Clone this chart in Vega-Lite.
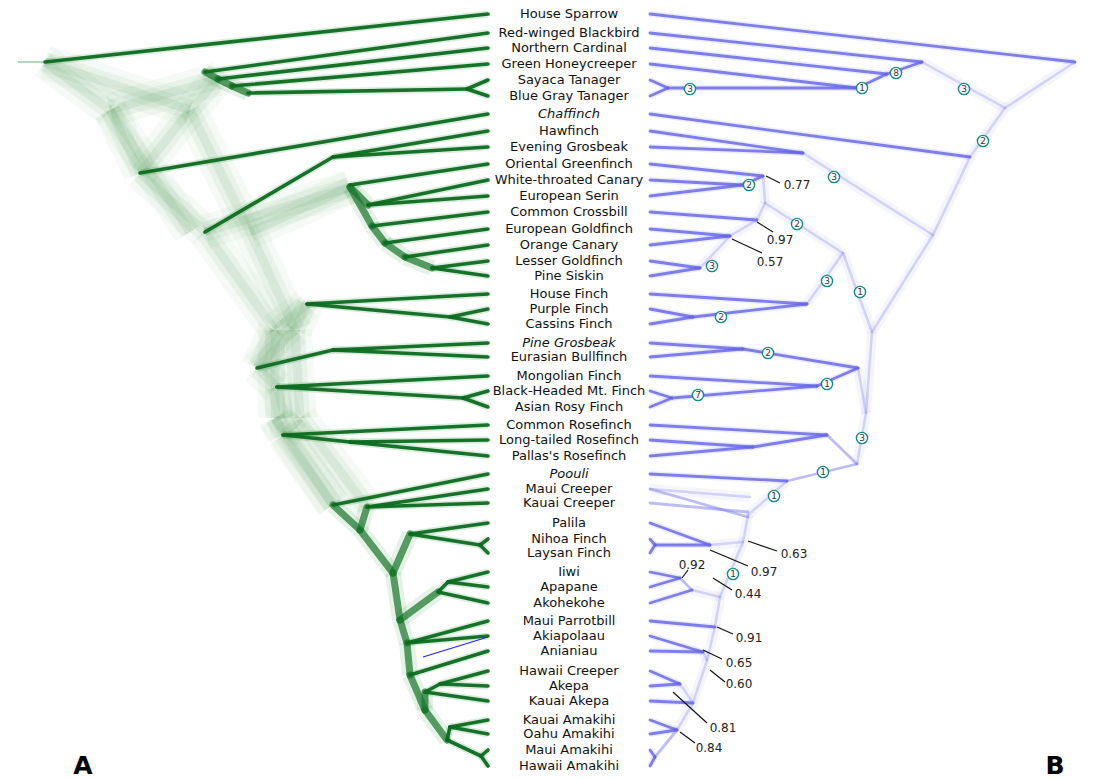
{
  "$schema": "https://vega.github.io/schema/vega-lite/v6.json",
  "width": 1093,
  "height": 779,
  "padding": 0,
  "autosize": {"type": "fit", "contains": "padding"},
  "background": "white",
  "config": {"view": {"stroke": null}, "axis": {"disable": true}, "legend": {"disable": true}},
  "datasets": {
    "segs": [
      {"s":"L","k":"c","x":488,"y":14,"x2":45,"y2":62},
      {"s":"L","k":"t","x":45,"y":62,"x2":18,"y2":62},
      {"s":"L","k":"c","x":488,"y":33,"x2":205,"y2":72},
      {"s":"L","k":"c","x":488,"y":48,"x2":218,"y2":79},
      {"s":"L","k":"c","x":488,"y":64,"x2":232,"y2":86},
      {"s":"L","k":"c","x":488,"y":80,"x2":467,"y2":89},
      {"s":"L","k":"c","x":488,"y":96,"x2":467,"y2":89},
      {"s":"L","k":"c","x":467,"y":89,"x2":248,"y2":93},
      {"s":"L","k":"c","x":488,"y":114,"x2":140,"y2":173},
      {"s":"L","k":"c","x":488,"y":131,"x2":333,"y2":157},
      {"s":"L","k":"c","x":488,"y":147,"x2":333,"y2":157},
      {"s":"L","k":"c","x":333,"y":157,"x2":205,"y2":232},
      {"s":"L","k":"c","x":488,"y":164,"x2":350,"y2":185},
      {"s":"L","k":"c","x":488,"y":180,"x2":368,"y2":205},
      {"s":"L","k":"c","x":488,"y":196,"x2":368,"y2":205},
      {"s":"L","k":"c","x":488,"y":212,"x2":372,"y2":226},
      {"s":"L","k":"c","x":488,"y":229,"x2":385,"y2":243},
      {"s":"L","k":"c","x":488,"y":245,"x2":405,"y2":257},
      {"s":"L","k":"c","x":488,"y":261,"x2":432,"y2":268},
      {"s":"L","k":"c","x":488,"y":276,"x2":432,"y2":268},
      {"s":"L","k":"c","x":488,"y":294,"x2":307,"y2":304},
      {"s":"L","k":"c","x":488,"y":309,"x2":450,"y2":317},
      {"s":"L","k":"c","x":488,"y":324,"x2":450,"y2":317},
      {"s":"L","k":"c","x":450,"y":317,"x2":307,"y2":304},
      {"s":"L","k":"c","x":488,"y":343,"x2":333,"y2":350},
      {"s":"L","k":"c","x":488,"y":357,"x2":333,"y2":350},
      {"s":"L","k":"c","x":333,"y":350,"x2":257,"y2":368},
      {"s":"L","k":"c","x":488,"y":376,"x2":277,"y2":387},
      {"s":"L","k":"c","x":488,"y":391,"x2":463,"y2":398},
      {"s":"L","k":"c","x":488,"y":407,"x2":463,"y2":398},
      {"s":"L","k":"c","x":463,"y":398,"x2":277,"y2":387},
      {"s":"L","k":"c","x":488,"y":425,"x2":283,"y2":435},
      {"s":"L","k":"c","x":488,"y":440,"x2":350,"y2":442},
      {"s":"L","k":"c","x":488,"y":456,"x2":350,"y2":442},
      {"s":"L","k":"c","x":350,"y":442,"x2":283,"y2":435},
      {"s":"L","k":"c","x":488,"y":474,"x2":333,"y2":505},
      {"s":"L","k":"c","x":488,"y":489,"x2":367,"y2":507},
      {"s":"L","k":"c","x":488,"y":503,"x2":367,"y2":507},
      {"s":"L","k":"c","x":488,"y":523,"x2":410,"y2":534},
      {"s":"L","k":"c","x":488,"y":539,"x2":480,"y2":545},
      {"s":"L","k":"c","x":488,"y":553,"x2":480,"y2":545},
      {"s":"L","k":"c","x":480,"y":545,"x2":410,"y2":534},
      {"s":"L","k":"c","x":488,"y":572,"x2":448,"y2":582},
      {"s":"L","k":"c","x":488,"y":587,"x2":448,"y2":582},
      {"s":"L","k":"c","x":448,"y":582,"x2":438,"y2":592},
      {"s":"L","k":"c","x":488,"y":603,"x2":438,"y2":592},
      {"s":"L","k":"c","x":488,"y":621,"x2":407,"y2":643},
      {"s":"L","k":"c","x":488,"y":636,"x2":407,"y2":643},
      {"s":"L","k":"c","x":488,"y":651,"x2":410,"y2":675},
      {"s":"L","k":"c","x":488,"y":671,"x2":440,"y2":684},
      {"s":"L","k":"c","x":488,"y":686,"x2":440,"y2":684},
      {"s":"L","k":"c","x":440,"y":684,"x2":425,"y2":692},
      {"s":"L","k":"c","x":488,"y":701,"x2":425,"y2":692},
      {"s":"L","k":"c","x":488,"y":720,"x2":450,"y2":727},
      {"s":"L","k":"c","x":488,"y":734,"x2":450,"y2":727},
      {"s":"L","k":"c","x":450,"y":727,"x2":447,"y2":740},
      {"s":"L","k":"c","x":488,"y":750,"x2":481,"y2":756},
      {"s":"L","k":"c","x":488,"y":766,"x2":481,"y2":756},
      {"s":"L","k":"c","x":481,"y":756,"x2":447,"y2":740},
      {"s":"L","k":"m","x":368,"y":205,"x2":350,"y2":187},
      {"s":"L","k":"m","x":432,"y":268,"x2":405,"y2":257},
      {"s":"L","k":"m","x":405,"y":257,"x2":385,"y2":243},
      {"s":"L","k":"m","x":385,"y":243,"x2":372,"y2":226},
      {"s":"L","k":"m","x":372,"y":226,"x2":350,"y2":187},
      {"s":"L","k":"m","x":205,"y":72,"x2":218,"y2":79},
      {"s":"L","k":"m","x":232,"y":86,"x2":218,"y2":79},
      {"s":"L","k":"m","x":248,"y":93,"x2":232,"y2":86},
      {"s":"L","k":"m","x":333,"y":505,"x2":360,"y2":530},
      {"s":"L","k":"m","x":367,"y":507,"x2":360,"y2":530},
      {"s":"L","k":"m","x":360,"y":530,"x2":393,"y2":573},
      {"s":"L","k":"m","x":410,"y":534,"x2":393,"y2":573},
      {"s":"L","k":"m","x":393,"y":573,"x2":400,"y2":620},
      {"s":"L","k":"m","x":438,"y":592,"x2":400,"y2":620},
      {"s":"L","k":"m","x":400,"y":620,"x2":407,"y2":643},
      {"s":"L","k":"m","x":407,"y":643,"x2":410,"y2":675},
      {"s":"L","k":"m","x":410,"y":675,"x2":425,"y2":710},
      {"s":"L","k":"m","x":425,"y":692,"x2":425,"y2":710},
      {"s":"L","k":"m","x":425,"y":710,"x2":447,"y2":740},
      {"s":"L","k":"f","x":45,"y":62,"x2":110,"y2":110},
      {"s":"L","k":"f","x":45,"y":62,"x2":190,"y2":110},
      {"s":"L","k":"f","x":110,"y":110,"x2":218,"y2":79},
      {"s":"L","k":"f","x":190,"y":110,"x2":218,"y2":79},
      {"s":"L","k":"f","x":110,"y":110,"x2":140,"y2":173},
      {"s":"L","k":"f","x":190,"y":110,"x2":140,"y2":173},
      {"s":"L","k":"f","x":110,"y":110,"x2":190,"y2":232},
      {"s":"L","k":"f","x":190,"y":110,"x2":250,"y2":232},
      {"s":"L","k":"f","x":140,"y":173,"x2":205,"y2":232},
      {"s":"L","k":"f","x":205,"y":232,"x2":350,"y2":187},
      {"s":"L","k":"f","x":250,"y":232,"x2":350,"y2":187},
      {"s":"L","k":"f","x":205,"y":232,"x2":275,"y2":330},
      {"s":"L","k":"f","x":250,"y":232,"x2":295,"y2":330},
      {"s":"L","k":"f","x":275,"y":330,"x2":307,"y2":304},
      {"s":"L","k":"f","x":295,"y":330,"x2":307,"y2":304},
      {"s":"L","k":"f","x":275,"y":330,"x2":257,"y2":368},
      {"s":"L","k":"f","x":295,"y":330,"x2":257,"y2":368},
      {"s":"L","k":"f","x":275,"y":330,"x2":275,"y2":418},
      {"s":"L","k":"f","x":295,"y":330,"x2":300,"y2":418},
      {"s":"L","k":"f","x":257,"y":368,"x2":277,"y2":387},
      {"s":"L","k":"f","x":277,"y":387,"x2":285,"y2":418},
      {"s":"L","k":"f","x":275,"y":418,"x2":283,"y2":435},
      {"s":"L","k":"f","x":300,"y":418,"x2":283,"y2":435},
      {"s":"L","k":"f","x":275,"y":418,"x2":333,"y2":505},
      {"s":"L","k":"f","x":300,"y":418,"x2":367,"y2":507},
      {"s":"L","k":"f","x":283,"y":435,"x2":333,"y2":505},
      {"s":"R","k":"c","x":650,"y":14,"x2":1075,"y2":62},
      {"s":"R","k":"c","x":650,"y":33,"x2":922,"y2":62},
      {"s":"R","k":"c","x":650,"y":48,"x2":887,"y2":74},
      {"s":"R","k":"c","x":650,"y":64,"x2":857,"y2":88},
      {"s":"R","k":"c","x":650,"y":80,"x2":668,"y2":88},
      {"s":"R","k":"c","x":650,"y":96,"x2":668,"y2":88},
      {"s":"R","k":"c","x":668,"y":88,"x2":857,"y2":88},
      {"s":"R","k":"c","x":857,"y":88,"x2":887,"y2":74},
      {"s":"R","k":"c","x":887,"y":74,"x2":922,"y2":62},
      {"s":"R","k":"c","x":650,"y":114,"x2":970,"y2":157},
      {"s":"R","k":"c","x":650,"y":131,"x2":803,"y2":153},
      {"s":"R","k":"c","x":650,"y":147,"x2":803,"y2":153},
      {"s":"R","k":"c","x":650,"y":164,"x2":763,"y2":176},
      {"s":"R","k":"c","x":650,"y":180,"x2":743,"y2":185},
      {"s":"R","k":"c","x":650,"y":196,"x2":743,"y2":185},
      {"s":"R","k":"c","x":743,"y":185,"x2":763,"y2":176},
      {"s":"R","k":"c","x":650,"y":212,"x2":757,"y2":220},
      {"s":"R","k":"c","x":650,"y":229,"x2":730,"y2":236},
      {"s":"R","k":"c","x":650,"y":245,"x2":730,"y2":236},
      {"s":"R","k":"c","x":650,"y":261,"x2":700,"y2":268},
      {"s":"R","k":"c","x":650,"y":276,"x2":700,"y2":268},
      {"s":"R","k":"c","x":650,"y":294,"x2":807,"y2":304},
      {"s":"R","k":"c","x":650,"y":309,"x2":693,"y2":317},
      {"s":"R","k":"c","x":650,"y":324,"x2":693,"y2":317},
      {"s":"R","k":"c","x":693,"y":317,"x2":807,"y2":304},
      {"s":"R","k":"c","x":650,"y":343,"x2":743,"y2":349},
      {"s":"R","k":"c","x":650,"y":357,"x2":743,"y2":349},
      {"s":"R","k":"c","x":743,"y":349,"x2":858,"y2":368},
      {"s":"R","k":"c","x":650,"y":376,"x2":817,"y2":386},
      {"s":"R","k":"c","x":650,"y":391,"x2":672,"y2":398},
      {"s":"R","k":"c","x":650,"y":407,"x2":672,"y2":398},
      {"s":"R","k":"c","x":672,"y":398,"x2":817,"y2":386},
      {"s":"R","k":"c","x":817,"y":386,"x2":858,"y2":368},
      {"s":"R","k":"c","x":650,"y":425,"x2":827,"y2":435},
      {"s":"R","k":"c","x":650,"y":440,"x2":753,"y2":447},
      {"s":"R","k":"c","x":650,"y":456,"x2":753,"y2":447},
      {"s":"R","k":"c","x":753,"y":447,"x2":827,"y2":435},
      {"s":"R","k":"c","x":650,"y":474,"x2":787,"y2":481},
      {"s":"R","k":"m","x":787,"y":481,"x2":857,"y2":464},
      {"s":"R","k":"m","x":827,"y":435,"x2":857,"y2":464},
      {"s":"R","k":"m","x":650,"y":489,"x2":748,"y2":517},
      {"s":"R","k":"m","x":650,"y":503,"x2":748,"y2":512},
      {"s":"R","k":"c","x":650,"y":523,"x2":710,"y2":545},
      {"s":"R","k":"c","x":650,"y":539,"x2":655,"y2":545},
      {"s":"R","k":"c","x":650,"y":553,"x2":655,"y2":545},
      {"s":"R","k":"c","x":655,"y":545,"x2":710,"y2":545},
      {"s":"R","k":"c","x":650,"y":572,"x2":680,"y2":578},
      {"s":"R","k":"c","x":650,"y":587,"x2":680,"y2":578},
      {"s":"R","k":"m","x":680,"y":578,"x2":692,"y2":590},
      {"s":"R","k":"c","x":650,"y":603,"x2":692,"y2":590},
      {"s":"R","k":"c","x":650,"y":621,"x2":715,"y2":627},
      {"s":"R","k":"c","x":650,"y":636,"x2":703,"y2":652},
      {"s":"R","k":"c","x":650,"y":651,"x2":703,"y2":652},
      {"s":"R","k":"c","x":650,"y":671,"x2":680,"y2":684},
      {"s":"R","k":"c","x":650,"y":686,"x2":680,"y2":684},
      {"s":"R","k":"c","x":650,"y":701,"x2":693,"y2":703},
      {"s":"R","k":"c","x":650,"y":720,"x2":677,"y2":730},
      {"s":"R","k":"c","x":650,"y":734,"x2":677,"y2":730},
      {"s":"R","k":"c","x":650,"y":750,"x2":655,"y2":757},
      {"s":"R","k":"c","x":650,"y":766,"x2":655,"y2":757},
      {"s":"R","k":"m","x":655,"y":757,"x2":677,"y2":730},
      {"s":"R","k":"f","x":922,"y":62,"x2":1005,"y2":108},
      {"s":"R","k":"f","x":1005,"y":108,"x2":1075,"y2":62},
      {"s":"R","k":"f","x":970,"y":157,"x2":1005,"y2":108},
      {"s":"R","k":"f","x":803,"y":153,"x2":933,"y2":235},
      {"s":"R","k":"f","x":933,"y":235,"x2":970,"y2":157},
      {"s":"R","k":"f","x":763,"y":176,"x2":765,"y2":203},
      {"s":"R","k":"f","x":757,"y":220,"x2":765,"y2":203},
      {"s":"R","k":"f","x":730,"y":236,"x2":757,"y2":220},
      {"s":"R","k":"f","x":700,"y":268,"x2":730,"y2":236},
      {"s":"R","k":"f","x":765,"y":203,"x2":843,"y2":253},
      {"s":"R","k":"f","x":843,"y":253,"x2":807,"y2":304},
      {"s":"R","k":"f","x":843,"y":253,"x2":872,"y2":332},
      {"s":"R","k":"f","x":872,"y":332,"x2":933,"y2":235},
      {"s":"R","k":"f","x":872,"y":332,"x2":866,"y2":413},
      {"s":"R","k":"f","x":858,"y":368,"x2":866,"y2":413},
      {"s":"R","k":"f","x":866,"y":413,"x2":857,"y2":464},
      {"s":"R","k":"f","x":787,"y":481,"x2":748,"y2":515},
      {"s":"R","k":"f","x":650,"y":489,"x2":750,"y2":497},
      {"s":"R","k":"f","x":748,"y":515,"x2":743,"y2":542},
      {"s":"R","k":"f","x":710,"y":545,"x2":743,"y2":542},
      {"s":"R","k":"f","x":743,"y":542,"x2":720,"y2":597},
      {"s":"R","k":"f","x":692,"y":590,"x2":720,"y2":597},
      {"s":"R","k":"f","x":720,"y":597,"x2":715,"y2":627},
      {"s":"R","k":"f","x":715,"y":627,"x2":707,"y2":660},
      {"s":"R","k":"f","x":703,"y":652,"x2":707,"y2":660},
      {"s":"R","k":"f","x":707,"y":660,"x2":693,"y2":703},
      {"s":"R","k":"f","x":680,"y":684,"x2":693,"y2":703},
      {"s":"R","k":"f","x":693,"y":703,"x2":677,"y2":730},
      {"s":"X","k":"c","x":423,"y":657,"x2":488,"y2":637}
    ],
    "names": [
      {"n":"House Sparrow","x":569,"y":14,"u":false},
      {"n":"Red-winged Blackbird","x":569,"y":33,"u":false},
      {"n":"Northern Cardinal","x":569,"y":48,"u":false},
      {"n":"Green Honeycreeper","x":569,"y":64,"u":false},
      {"n":"Sayaca Tanager","x":569,"y":80,"u":false},
      {"n":"Blue Gray Tanager","x":569,"y":96,"u":false},
      {"n":"Chaffinch","x":569,"y":114,"u":true},
      {"n":"Hawfinch","x":569,"y":131,"u":false},
      {"n":"Evening Grosbeak","x":569,"y":147,"u":false},
      {"n":"Oriental Greenfinch","x":569,"y":164,"u":false},
      {"n":"White-throated Canary","x":569,"y":180,"u":false},
      {"n":"European Serin","x":569,"y":196,"u":false},
      {"n":"Common Crossbill","x":569,"y":212,"u":false},
      {"n":"European Goldfinch","x":569,"y":229,"u":false},
      {"n":"Orange Canary","x":569,"y":245,"u":false},
      {"n":"Lesser Goldfinch","x":569,"y":261,"u":false},
      {"n":"Pine Siskin","x":569,"y":276,"u":false},
      {"n":"House Finch","x":569,"y":294,"u":false},
      {"n":"Purple Finch","x":569,"y":309,"u":false},
      {"n":"Cassins Finch","x":569,"y":324,"u":false},
      {"n":"Pine Grosbeak","x":569,"y":343,"u":true},
      {"n":"Eurasian Bullfinch","x":569,"y":357,"u":false},
      {"n":"Mongolian Finch","x":569,"y":376,"u":false},
      {"n":"Black-Headed Mt. Finch","x":569,"y":391,"u":false},
      {"n":"Asian Rosy Finch","x":569,"y":407,"u":false},
      {"n":"Common Rosefinch","x":569,"y":425,"u":false},
      {"n":"Long-tailed Rosefinch","x":569,"y":440,"u":false},
      {"n":"Pallas's Rosefinch","x":569,"y":456,"u":false},
      {"n":"Poouli","x":569,"y":474,"u":true},
      {"n":"Maui Creeper","x":569,"y":489,"u":false},
      {"n":"Kauai Creeper","x":569,"y":503,"u":false},
      {"n":"Palila","x":569,"y":523,"u":false},
      {"n":"Nihoa Finch","x":569,"y":539,"u":false},
      {"n":"Laysan Finch","x":569,"y":553,"u":false},
      {"n":"Iiwi","x":569,"y":572,"u":false},
      {"n":"Apapane","x":569,"y":587,"u":false},
      {"n":"Akohekohe","x":569,"y":603,"u":false},
      {"n":"Maui Parrotbill","x":569,"y":621,"u":false},
      {"n":"Akiapolaau","x":569,"y":636,"u":false},
      {"n":"Anianiau","x":569,"y":651,"u":false},
      {"n":"Hawaii Creeper","x":569,"y":671,"u":false},
      {"n":"Akepa","x":569,"y":686,"u":false},
      {"n":"Kauai Akepa","x":569,"y":701,"u":false},
      {"n":"Kauai Amakihi","x":569,"y":720,"u":false},
      {"n":"Oahu Amakihi","x":569,"y":734,"u":false},
      {"n":"Maui Amakihi","x":569,"y":750,"u":false},
      {"n":"Hawaii Amakihi","x":569,"y":766,"u":false}
    ],
    "circles": [
      {"x":896,"y":73,"t":"8"},{"x":862,"y":88,"t":"1"},{"x":690,"y":89,"t":"3"},
      {"x":964,"y":89,"t":"3"},{"x":983,"y":141,"t":"2"},{"x":834,"y":177,"t":"3"},
      {"x":749,"y":185,"t":"2"},{"x":797,"y":224,"t":"2"},{"x":712,"y":266,"t":"3"},
      {"x":827,"y":281,"t":"3"},{"x":860,"y":292,"t":"1"},{"x":721,"y":317,"t":"2"},
      {"x":768,"y":353,"t":"2"},{"x":827,"y":384,"t":"1"},{"x":698,"y":395,"t":"7"},
      {"x":862,"y":438,"t":"3"},{"x":823,"y":472,"t":"1"},{"x":774,"y":496,"t":"1"},
      {"x":733,"y":574,"t":"1"}
    ],
    "leaders": [
      {"x":766,"y":176,"x2":780,"y2":183},{"x":757,"y":222,"x2":773,"y2":232},
      {"x":732,"y":239,"x2":762,"y2":253},{"x":748,"y":541,"x2":777,"y2":551},
      {"x":710,"y":550,"x2":748,"y2":566},{"x":682,"y":578,"x2":688,"y2":570},
      {"x":713,"y":578,"x2":732,"y2":590},{"x":717,"y":627,"x2":733,"y2":634},
      {"x":703,"y":650,"x2":722,"y2":659},{"x":710,"y":670,"x2":725,"y2":682},
      {"x":673,"y":692,"x2":707,"y2":723},{"x":680,"y":732,"x2":695,"y2":743}
    ],
    "probs": [
      {"x":797,"y":185,"t":"0.77"},{"x":780,"y":240,"t":"0.97"},{"x":770,"y":262,"t":"0.57"},
      {"x":794,"y":554,"t":"0.63"},{"x":764,"y":572,"t":"0.97"},{"x":692,"y":565,"t":"0.92"},
      {"x":748,"y":594,"t":"0.44"},{"x":749,"y":638,"t":"0.91"},{"x":739,"y":663,"t":"0.65"},
      {"x":739,"y":684,"t":"0.60"},{"x":723,"y":728,"t":"0.81"},{"x":709,"y":748,"t":"0.84"}
    ],
    "panels": [
      {"x":83,"y":766,"t":"A"},{"x":1055,"y":766,"t":"B"}
    ]
  },
  "encoding": {
    "x": {"field": "x", "type": "quantitative", "scale": {"domain": [0, 1093], "nice": false, "zero": false}},
    "y": {"field": "y", "type": "quantitative", "scale": {"domain": [0, 779], "nice": false, "zero": false, "reverse": true}}
  },
  "layer": [
    {"data": {"name": "segs"}, "transform": [{"filter": "datum.s == 'L' && datum.k == 'f'"}],
     "mark": {"type": "rule", "color": "#4a9a55", "strokeWidth": 34, "opacity": 0.05, "strokeCap": "butt"},
     "encoding": {"x2": {"field": "x2"}, "y2": {"field": "y2"}}},
    {"data": {"name": "segs"}, "transform": [{"filter": "datum.s == 'L' && datum.k == 'f'"}],
     "mark": {"type": "rule", "color": "#3d8f47", "strokeWidth": 20, "opacity": 0.07, "strokeCap": "butt"},
     "encoding": {"x2": {"field": "x2"}, "y2": {"field": "y2"}}},
    {"data": {"name": "segs"}, "transform": [{"filter": "datum.s == 'L' && datum.k == 'f'"}],
     "mark": {"type": "rule", "color": "#2f8a3c", "strokeWidth": 9, "opacity": 0.09, "strokeCap": "butt"},
     "encoding": {"x2": {"field": "x2"}, "y2": {"field": "y2"}}},
    {"data": {"name": "segs"}, "transform": [{"filter": "datum.s == 'L' && datum.k == 't'"}],
     "mark": {"type": "rule", "color": "#2f8a3c", "strokeWidth": 2, "opacity": 0.35},
     "encoding": {"x2": {"field": "x2"}, "y2": {"field": "y2"}}},
    {"data": {"name": "segs"}, "transform": [{"filter": "datum.s == 'L' && datum.k == 'm'"}],
     "mark": {"type": "rule", "color": "#2f8a3c", "strokeWidth": 16, "opacity": 0.12, "strokeCap": "butt"},
     "encoding": {"x2": {"field": "x2"}, "y2": {"field": "y2"}}},
    {"data": {"name": "segs"}, "transform": [{"filter": "datum.s == 'L' && datum.k == 'm'"}],
     "mark": {"type": "rule", "color": "#157528", "strokeWidth": 7, "opacity": 0.7, "strokeCap": "round"},
     "encoding": {"x2": {"field": "x2"}, "y2": {"field": "y2"}}},
    {"data": {"name": "segs"}, "transform": [{"filter": "datum.s == 'L' && datum.k == 'c'"}],
     "mark": {"type": "rule", "color": "#1f7a30", "strokeWidth": 7, "opacity": 0.15, "strokeCap": "butt"},
     "encoding": {"x2": {"field": "x2"}, "y2": {"field": "y2"}}},
    {"data": {"name": "segs"}, "transform": [{"filter": "datum.s == 'L' && datum.k == 'c'"}],
     "mark": {"type": "rule", "color": "#0b6b1e", "strokeWidth": 3.6, "opacity": 0.95, "strokeCap": "round"},
     "encoding": {"x2": {"field": "x2"}, "y2": {"field": "y2"}}},
    {"data": {"name": "segs"}, "transform": [{"filter": "datum.s == 'X'"}],
     "mark": {"type": "rule", "color": "#2424ff", "strokeWidth": 1.3},
     "encoding": {"x2": {"field": "x2"}, "y2": {"field": "y2"}}},
    {"data": {"name": "segs"}, "transform": [{"filter": "datum.s == 'R' && datum.k == 'f'"}],
     "mark": {"type": "rule", "color": "#9c9cf2", "strokeWidth": 10, "opacity": 0.1, "strokeCap": "butt"},
     "encoding": {"x2": {"field": "x2"}, "y2": {"field": "y2"}}},
    {"data": {"name": "segs"}, "transform": [{"filter": "datum.s == 'R' && datum.k == 'f'"}],
     "mark": {"type": "rule", "color": "#9a9af2", "strokeWidth": 2.5, "opacity": 0.4, "strokeCap": "round"},
     "encoding": {"x2": {"field": "x2"}, "y2": {"field": "y2"}}},
    {"data": {"name": "segs"}, "transform": [{"filter": "datum.s == 'R' && datum.k == 'm'"}],
     "mark": {"type": "rule", "color": "#7c7cee", "strokeWidth": 2.8, "opacity": 0.5, "strokeCap": "round"},
     "encoding": {"x2": {"field": "x2"}, "y2": {"field": "y2"}}},
    {"data": {"name": "segs"}, "transform": [{"filter": "datum.s == 'R' && datum.k == 'c'"}],
     "mark": {"type": "rule", "color": "#8080f0", "strokeWidth": 6, "opacity": 0.15, "strokeCap": "butt"},
     "encoding": {"x2": {"field": "x2"}, "y2": {"field": "y2"}}},
    {"data": {"name": "segs"}, "transform": [{"filter": "datum.s == 'R' && datum.k == 'c'"}],
     "mark": {"type": "rule", "color": "#6464e6", "strokeWidth": 2.8, "opacity": 0.82, "strokeCap": "round"},
     "encoding": {"x2": {"field": "x2"}, "y2": {"field": "y2"}}},
    {"data": {"name": "leaders"},
     "mark": {"type": "rule", "color": "#111111", "strokeWidth": 1.2},
     "encoding": {"x2": {"field": "x2"}, "y2": {"field": "y2"}}},
    {"data": {"name": "probs"},
     "mark": {"type": "text", "font": "DejaVu Sans", "fontSize": 12, "color": "#222222", "align": "center", "baseline": "middle"},
     "encoding": {"text": {"field": "t"}}},
    {"data": {"name": "circles"},
     "mark": {"type": "point", "shape": "circle", "filled": false, "fill": "white", "fillOpacity": 1, "stroke": "#138a84", "strokeWidth": 1.4, "size": 125, "opacity": 1},
     "encoding": {}},
    {"data": {"name": "circles"},
     "mark": {"type": "text", "font": "DejaVu Sans", "fontSize": 9, "color": "#333333", "align": "center", "baseline": "middle"},
     "encoding": {"text": {"field": "t"}}},
    {"data": {"name": "names"}, "transform": [{"filter": "!datum.u"}],
     "mark": {"type": "text", "font": "DejaVu Sans", "fontSize": 13, "color": "#111111", "align": "center", "baseline": "middle"},
     "encoding": {"text": {"field": "n"}}},
    {"data": {"name": "names"}, "transform": [{"filter": "datum.u"}],
     "mark": {"type": "text", "font": "DejaVu Sans", "fontSize": 13, "fontStyle": "italic", "color": "#111111", "align": "center", "baseline": "middle"},
     "encoding": {"text": {"field": "n"}}},
    {"data": {"name": "panels"},
     "mark": {"type": "text", "font": "DejaVu Sans", "fontSize": 25, "fontWeight": "bold", "color": "#000000", "align": "center", "baseline": "middle"},
     "encoding": {"text": {"field": "t"}}}
  ]
}
